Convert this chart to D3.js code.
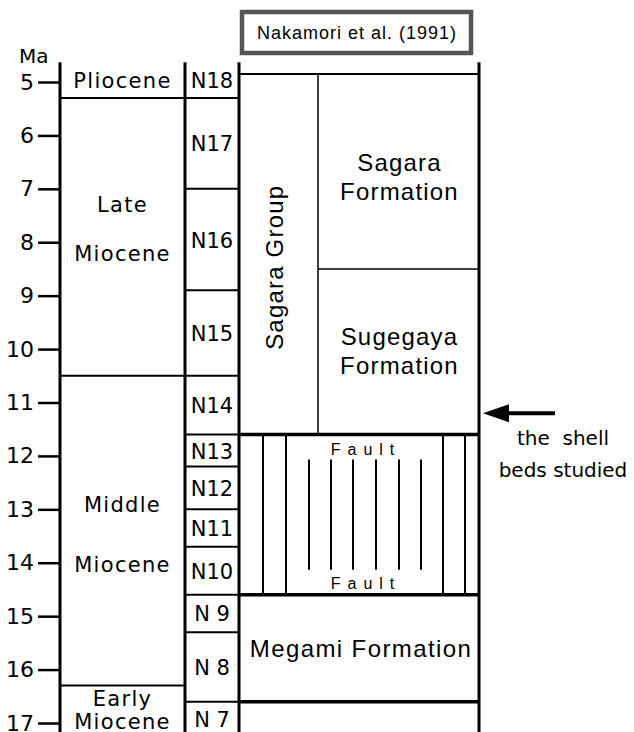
<!DOCTYPE html>
<html>
<head>
<meta charset="utf-8">
<script src="https://cdn.jsdelivr.net/npm/d3@7"></script>
<style>
  body { margin: 0; background: #fff; }
  svg { display: block; }
</style>
</head>
<body>
<div id="chart"></div>
<script>
// Ages (Ma)
const maTicks = [5, 6, 7, 8, 9, 10, 11, 12, 13, 14, 15, 16, 17];

const epochLabels = [["Pliocene"], ["Late", "Miocene"], ["Middle", "Miocene"], ["Early", "Miocene"]];
const epochTops = [4.63, 5.3, 10.5, 16.3];
const epochBases = [5.3, 10.5, 16.3, 17.2];

const zoneNames = ["N18", "N17", "N16", "N15", "N14", "N13", "N12", "N11", "N10", "N 9", "N 8", "N 7"];
const zoneTops = [4.63, 5.3, 7.0, 8.9, 10.5, 11.6, 12.2, 13.0, 13.7, 14.6, 15.3, 16.6];
const zoneBases = [5.3, 7.0, 8.9, 10.5, 11.6, 12.2, 13.0, 13.7, 14.6, 15.3, 16.6, 17.2];

const formationLabels = [["Sagara", "Formation"], ["Sugegaya", "Formation"], ["Fault"], ["Megami Formation"], []];
const formationTops = [4.85, 8.5, 11.6, 14.6, 16.6];
const formationBases = [8.5, 11.6, 14.6, 16.6, 17.2];

const groupName = "Sagara Group";
const groupTop = 4.85, groupBase = 11.6;

const sourceLabel = "Nakamori et al. (1991)";
const shellBedsMa = 11.2;
const shellBedsLabel = ["the  shell", "beds studied"];

const width = 634, height = 732;
const sans = "'DejaVu Sans', sans-serif";
const helv = "'Liberation Sans', Arial, sans-serif";

const svg = d3.select("#chart").append("svg")
    .attr("width", width)
    .attr("height", height);

const y = d3.scaleLinear().domain([5, 17]).range([82, 723]);
const colTop = y(4.63);

// column edges
const xEpochL = 60, xEpochR = 185, xZoneR = 239, xFormR = 479, xGroupR = 318;

// axis
const axis = svg.append("g")
    .attr("transform", `translate(${xEpochL},0)`)
    .call(d3.axisLeft(y).tickValues(maTicks).tickSize(22).tickPadding(4).tickFormat(d3.format("d")));
axis.select(".domain").remove();
axis.selectAll(".tick line").attr("stroke", "#000").attr("stroke-width", 2.5);
axis.selectAll(".tick text")
    .attr("fill", "#000")
    .style("font-family", sans)
    .style("font-size", "22px");

svg.append("text")
    .attr("x", 19).attr("y", 63)
    .style("font-family", sans).style("font-size", "20px")
    .text("Ma");

function vline(x, y1, y2, w) {
    svg.append("line").attr("x1", x).attr("x2", x).attr("y1", y1).attr("y2", y2)
        .attr("stroke", "#000").attr("stroke-width", w);
}
function hline(x1, x2, yy, w) {
    svg.append("line").attr("x1", x1).attr("x2", x2).attr("y1", yy).attr("y2", yy)
        .attr("stroke", "#000").attr("stroke-width", w);
}

// epoch column
vline(xEpochL, colTop, height, 3);
vline(xEpochR, colTop, height, 3);
epochBases.slice(0, -1).forEach(b => hline(xEpochL, xEpochR, y(b), 2));

const epochGap = [0, 49, 60, 23];
const epochShift = [8, 0, 11, 9];
epochLabels.forEach((lines, i) => {
    const mid = (y(epochTops[i]) + Math.min(y(epochBases[i]), height)) / 2;
    lines.forEach((t, j) => {
        svg.append("text")
            .attr("x", (xEpochL + xEpochR) / 2)
            .attr("y", mid + epochShift[i] + (j - (lines.length - 1) / 2) * epochGap[i])
            .attr("text-anchor", "middle")
            .style("font-family", sans).style("font-size", "21px")
            .style("letter-spacing", "1.3px")
            .text(t);
    });
});

// zone column
vline(xZoneR, colTop, height, 3);
zoneBases.slice(0, -1).forEach(b => hline(xEpochR, xZoneR, y(b), 2));
zoneNames.forEach((n, i) => {
    const top = y(zoneTops[i]);
    const bot = Math.min(y(zoneBases[i]), height + 10);
    svg.append("text")
        .attr("x", (xEpochR + xZoneR) / 2)
        .attr("y", i === zoneNames.length - 1 ? 727 : (top + bot) / 2 + 8)
        .attr("text-anchor", "middle")
        .style("font-family", sans).style("font-size", "21px")
        .text(n);
});

// formation column
vline(xFormR, colTop, height, 3);
hline(xZoneR, xFormR, y(formationTops[0]), 2);
vline(xGroupR, y(groupTop), y(groupBase), 1.5);
hline(xGroupR, xFormR, y(formationBases[0]), 1.5);
hline(xZoneR, xFormR, y(formationBases[1]), 3.5);
hline(xZoneR, xFormR, y(formationBases[2]), 3.5);
hline(xZoneR, xFormR, y(formationBases[3]), 3.5);

svg.append("text")
    .attr("transform", `translate(283,${(y(groupTop) + y(groupBase)) / 2 + 13}) rotate(-90)`)
    .attr("text-anchor", "middle")
    .style("font-family", helv).style("font-size", "24px")
    .style("letter-spacing", "1.2px")
    .text(groupName);

const formShift = [14, 8];
[0, 1].forEach(i => {
    const mid = (y(formationTops[i]) + y(formationBases[i])) / 2;
    formationLabels[i].forEach((t, j) => {
        svg.append("text")
            .attr("x", (xGroupR + xFormR) / 2 + 1)
            .attr("y", mid + formShift[i] + (j - 0.5) * 29)
            .attr("text-anchor", "middle")
            .style("font-family", helv).style("font-size", "24px")
            .style("letter-spacing", "1.2px")
            .text(t);
    });
});

// fault hatching
const fTop = y(formationTops[2]), fBot = y(formationBases[2]);
[263, 286, 443, 465].forEach(x => vline(x, fTop, fBot, 2));
[309, 331, 353, 376, 399, 421].forEach(x => vline(x, fTop + 25, fBot - 25, 2));
[fTop + 20, fBot - 6].forEach(yy => {
    svg.append("text")
        .attr("x", 366).attr("y", yy)
        .attr("text-anchor", "middle")
        .style("font-family", helv).style("font-size", "16px")
        .style("letter-spacing", "7px")
        .text(formationLabels[2][0] + " ");
});

// Megami
svg.append("text")
    .attr("x", (xZoneR + xFormR) / 2 + 2)
    .attr("y", (y(formationTops[3]) + y(formationBases[3])) / 2 + 9)
    .attr("text-anchor", "middle")
    .style("font-family", helv).style("font-size", "24px")
    .style("letter-spacing", "1.4px")
    .text(formationLabels[3][0]);

// source box
svg.append("rect")
    .attr("x", 242).attr("y", 12).attr("width", 229).attr("height", 41)
    .attr("fill", "#fff").attr("stroke", "#555").attr("stroke-width", 4.5);
svg.append("text")
    .attr("x", 357).attr("y", 39)
    .attr("text-anchor", "middle")
    .style("font-family", helv).style("font-size", "18px")
    .style("letter-spacing", "1px")
    .text(sourceLabel);

// arrow to the shell beds
const ay = y(shellBedsMa);
hline(505, 555, ay, 4);
svg.append("path")
    .attr("d", `M${xFormR + 4},${ay} L${xFormR + 30},${ay - 9} L${xFormR + 30},${ay + 9} Z`)
    .attr("fill", "#000");
shellBedsLabel.forEach((t, j) => {
    svg.append("text")
        .attr("x", 563).attr("y", ay + 32 + j * 32)
        .attr("text-anchor", "middle")
        .style("font-family", sans).style("font-size", "20px")
        .style("white-space", "pre")
        .text(t);
});
</script>
</body>
</html>
